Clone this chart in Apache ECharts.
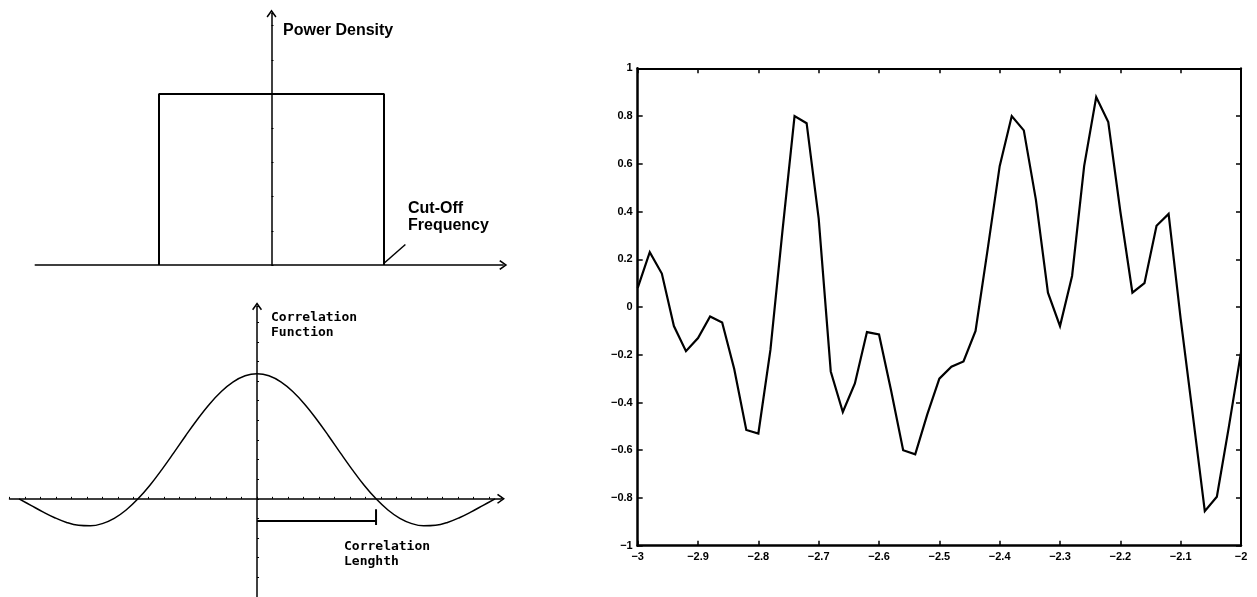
<!DOCTYPE html>
<html>
<head>
<meta charset="utf-8">
<script src="https://cdn.jsdelivr.net/npm/echarts@6/dist/echarts.min.js"></script>
<style>
html,body{margin:0;padding:0;background:#fff;}
#chart{width:1257px;height:597px;}
</style>
</head>
<body>
<div id="chart"></div>
<script>
// ---- Top-left schematic: ideal low-pass power density (normalised frequency, cut-off = 1)
var rectX = [-1, -1, 1, 1];
var rectY = [0, 1, 1, 0];
var cutoffLeaderX = [1.0, 1.19];
var cutoffLeaderY = [0.01, 0.12];

// ---- Bottom-left schematic: correlation function (lag in units of correlation length)
var corrLag = [-2.0,-1.9,-1.8,-1.7,-1.6,-1.5,-1.4,-1.3,-1.2,-1.1,-1.0,-0.9,-0.8,-0.7,-0.6,-0.5,-0.4,-0.3,-0.2,-0.1,0,
               0.1,0.2,0.3,0.4,0.5,0.6,0.7,0.8,0.9,1.0,1.1,1.2,1.3,1.4,1.5,1.6,1.7,1.8,1.9,2.0];
var corrValue = [0,-0.052,-0.104,-0.151,-0.189,-0.212,-0.216,-0.198,-0.156,-0.089,0,0.109,0.234,0.368,0.505,0.637,0.757,0.858,0.935,0.984,1,
                 0.984,0.935,0.858,0.757,0.637,0.505,0.368,0.234,0.109,0,-0.089,-0.156,-0.198,-0.216,-0.212,-0.189,-0.151,-0.104,-0.052,0];
var corrLengthX = [0, 1];
var corrLengthY = [-0.178, -0.178];
var corrLengthEndX = [1, 1];
var corrLengthEndY = [-0.084, -0.21];

// ---- Right: sampled random profile
var profileX = [-3.00,-2.98,-2.96,-2.94,-2.92,-2.90,-2.88,-2.86,-2.84,-2.82,-2.80,-2.78,-2.76,-2.74,-2.72,-2.70,-2.68,
                -2.66,-2.64,-2.62,-2.60,-2.58,-2.56,-2.54,-2.52,-2.50,-2.48,-2.46,-2.44,-2.42,-2.40,-2.38,-2.36,-2.34,
                -2.32,-2.30,-2.28,-2.26,-2.24,-2.22,-2.20,-2.18,-2.16,-2.14,-2.12,-2.10,-2.08,-2.06,-2.04,-2.02,-2.00];
var profileY = [0.08,0.23,0.14,-0.08,-0.185,-0.13,-0.04,-0.065,-0.26,-0.515,-0.53,-0.18,0.32,0.80,0.77,0.37,-0.27,
                -0.44,-0.32,-0.105,-0.115,-0.35,-0.60,-0.617,-0.45,-0.30,-0.25,-0.228,-0.10,0.24,0.59,0.80,0.74,0.45,
                0.06,-0.08,0.13,0.59,0.88,0.775,0.40,0.06,0.10,0.34,0.39,-0.05,-0.45,-0.855,-0.795,-0.50,-0.19];

var texts = {
  power: 'Power Density',
  cutoff: 'Cut-Off\nFrequency',
  corrFn: 'Correlation\nFunction',
  corrLen: 'Correlation\nLenghth'
};

function zip(a, b) { return a.map(function (v, i) { return [v, b[i]]; }); }

var chevron = 'path://M5,0 L10,7 L8.8,8 L5,2.6 L1.2,8 L0,7 Z';
var black = '#000';
var schematicAxis = function (extra) {
  return Object.assign({
    type: 'value',
    axisLine: { onZero: true, symbol: ['none', chevron], symbolSize: [10, 8],
                lineStyle: { color: black, width: 1.5 } },
    axisTick: { show: false },
    axisLabel: { show: false },
    splitLine: { show: false }
  }, extra);
};
var tickFmt = function (v) { return String(parseFloat(Number(v).toFixed(2))).replace('-', '\u2212'); };
var boxLabel = { show: true, margin: 6, fontSize: 11, fontWeight: 'bold', color: black,
                 fontFamily: 'Liberation Sans, Arial, sans-serif', formatter: tickFmt };

var chart = echarts.init(document.getElementById('chart'), null, { renderer: 'canvas' });
chart.setOption({
  animation: false,
  backgroundColor: '#fff',
  grid: [
    { left: 35.25, top: 13.6, width: 468, height: 251.4 },
    { left: 9.5, top: 306.3, width: 491.5, height: 296 },
    { left: 637.7, top: 68.3, width: 603.3, height: 477.4 }
  ],
  xAxis: [
    schematicAxis({ gridIndex: 0, min: -2.1, max: 2.06 }),
    schematicAxis({ gridIndex: 1, min: -2.08, max: 2.05, interval: 0.13,
      axisTick: { show: true, inside: true, length: 2, lineStyle: { color: black, width: 1 } } }),
    { type: 'value', gridIndex: 2, min: -3, max: -2, interval: 0.1, position: 'bottom',
      axisLine: { onZero: false, lineStyle: { color: black, width: 2.5 } },
      axisTick: { inside: true, length: 5, lineStyle: { color: black, width: 1.5 } },
      axisLabel: boxLabel, splitLine: { show: false } },
    { type: 'value', gridIndex: 2, min: -3, max: -2, interval: 0.1, position: 'top',
      axisLine: { onZero: false, lineStyle: { color: black, width: 2 } },
      axisTick: { inside: true, length: 5, lineStyle: { color: black, width: 1.5 } },
      axisLabel: { show: false }, splitLine: { show: false } }
  ],
  yAxis: [
    schematicAxis({ gridIndex: 0, min: 0, max: 1.47, interval: 0.2,
      axisTick: { show: true, inside: true, length: 2, lineStyle: { color: black, width: 1 } } }),
    schematicAxis({ gridIndex: 1, min: -0.785, max: 1.54, interval: 0.157,
      axisTick: { show: true, inside: true, length: 2, lineStyle: { color: black, width: 1 } } }),
    { type: 'value', gridIndex: 2, min: -1, max: 1, interval: 0.2, position: 'left',
      axisLine: { onZero: false, lineStyle: { color: black, width: 2.5 } },
      axisTick: { inside: true, length: 5, lineStyle: { color: black, width: 1.5 } },
      axisLabel: Object.assign({}, boxLabel, { margin: 5 }), splitLine: { show: false } },
    { type: 'value', gridIndex: 2, min: -1, max: 1, interval: 0.2, position: 'right',
      axisLine: { onZero: false, lineStyle: { color: black, width: 2 } },
      axisTick: { inside: true, length: 5, lineStyle: { color: black, width: 1.5 } },
      axisLabel: { show: false }, splitLine: { show: false } }
  ],
  series: [
    { type: 'line', xAxisIndex: 0, yAxisIndex: 0, data: zip(rectX, rectY), symbol: 'none',
      lineStyle: { color: black, width: 2 }, z: 3 },
    { type: 'line', xAxisIndex: 0, yAxisIndex: 0, data: zip(cutoffLeaderX, cutoffLeaderY), symbol: 'none',
      lineStyle: { color: black, width: 1.5 } },
    { type: 'line', xAxisIndex: 1, yAxisIndex: 1, data: zip(corrLag, corrValue), symbol: 'none', smooth: 0.4,
      lineStyle: { color: black, width: 1.5 } },
    { type: 'line', xAxisIndex: 1, yAxisIndex: 1, data: zip(corrLengthX, corrLengthY), symbol: 'none',
      lineStyle: { color: black, width: 2 } },
    { type: 'line', xAxisIndex: 1, yAxisIndex: 1, data: zip(corrLengthEndX, corrLengthEndY), symbol: 'none',
      lineStyle: { color: black, width: 2 } },
    { type: 'line', xAxisIndex: 2, yAxisIndex: 2, data: zip(profileX, profileY), symbol: 'none',
      lineStyle: { color: black, width: 2.2, join: 'miter' } }
  ],
  graphic: [
    { type: 'text', left: 283, top: 22,
      style: { text: texts.power, font: 'bold 16px "Liberation Sans", Arial, sans-serif', fill: black, lineHeight: 18 } },
    { type: 'text', left: 408, top: 200.5,
      style: { text: texts.cutoff, font: 'bold 16px "Liberation Sans", Arial, sans-serif', fill: black, lineHeight: 17 } },
    { type: 'text', left: 271, top: 310.5,
      style: { text: texts.corrFn, font: 'bold 13px "DejaVu Sans Mono", monospace', fill: black, lineHeight: 15 } },
    { type: 'text', left: 344, top: 539.5,
      style: { text: texts.corrLen, font: 'bold 13px "DejaVu Sans Mono", monospace', fill: black, lineHeight: 15 } }
  ]
});
</script>
</body>
</html>
